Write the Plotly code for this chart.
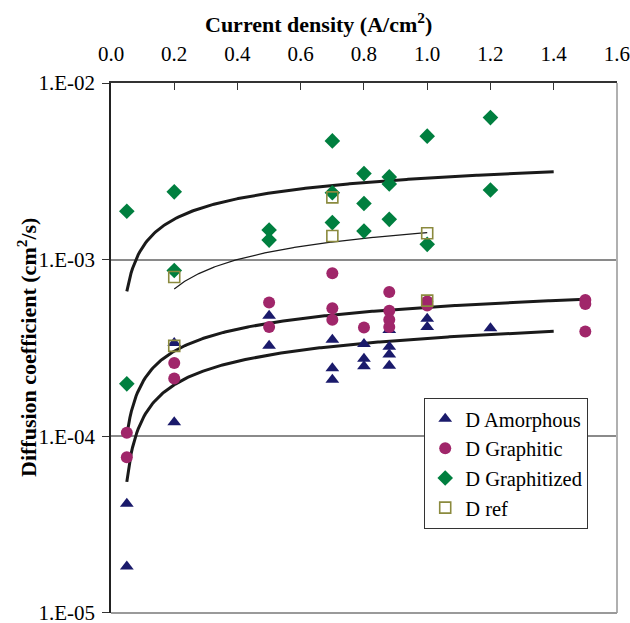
import numpy as np
import plotly.graph_objects as go

# ---------------- data ----------------
amorph_x = [0.05, 0.05, 0.2, 0.2, 0.5, 0.5, 0.7, 0.7, 0.7, 0.8, 0.8, 0.8,
            0.88, 0.88, 0.88, 0.88, 1.0, 1.0, 1.2]
amorph_y = [4.15e-5, 1.83e-5, 3.37e-4, 1.2e-4, 4.81e-4, 3.25e-4, 3.52e-4, 2.43e-4,
            2.09e-4, 3.33e-4, 2.75e-4, 2.49e-4, 4.0e-4, 3.21e-4, 2.9e-4, 2.51e-4,
            4.62e-4, 4.15e-4, 4.09e-4]

graphitic_x = [0.05, 0.05, 0.2, 0.2, 0.5, 0.5, 0.7, 0.7, 0.7, 0.8,
               0.88, 0.88, 0.88, 0.88, 1.0, 1.0, 1.5, 1.5, 1.5]
graphitic_y = [1.045e-4, 7.6e-5, 2.6e-4, 2.12e-4, 5.71e-4, 4.15e-4, 8.37e-4, 5.31e-4,
               4.56e-4, 4.13e-4, 6.55e-4, 5.13e-4, 4.56e-4, 4.15e-4, 5.8e-4, 5.5e-4,
               5.9e-4, 5.6e-4, 3.92e-4]

graphitized_x = [0.05, 0.05, 0.2, 0.2, 0.5, 0.5, 0.7, 0.7, 0.7, 0.8, 0.8, 0.8,
                 0.88, 0.88, 0.88, 1.0, 1.0, 1.2, 1.2]
graphitized_y = [1.88e-3, 1.98e-4, 2.42e-3, 8.67e-4, 1.47e-3, 1.29e-3, 4.7e-3, 2.39e-3,
                 1.62e-3, 3.07e-3, 2.08e-3, 1.45e-3, 2.94e-3, 2.68e-3, 1.69e-3,
                 5.0e-3, 1.22e-3, 6.37e-3, 2.48e-3]

ref_x = [0.2, 0.2, 0.7, 0.7, 1.0, 1.0]
ref_y = [7.98e-4, 3.25e-4, 2.25e-3, 1.36e-3, 1.41e-3, 5.86e-4]

series_names = ["D Amorphous", "D Graphitic", "D Graphitized", "D ref"]
# logarithmic trendline forward forecast (in x units) per series
trend_forward = [0.2, 0.0, 0.2, 0.0]

x_tickvals = [0.0, 0.2, 0.4, 0.6, 0.8, 1.0, 1.2, 1.4, 1.6]
x_ticktext = ["0.0", "0.2", "0.4", "0.6", "0.8", "1.0", "1.2", "1.4", "1.6"]
y_tickvals = [1e-5, 1e-4, 1e-3, 1e-2]
y_ticktext = ["1.E-05", "1.E-04", "1.E-03", "1.E-02"]

# ---------------- styling ----------------
FONT = "Liberation Serif"
styles = [
    dict(symbol="triangle-up", color="#1a1a6b", size=12, line=dict(width=0)),
    dict(symbol="circle", color="#a0266a", size=12, line=dict(width=0)),
    dict(symbol="diamond", color="#007f3f", size=12, line=dict(width=0)),
    dict(symbol="square-open", color="#8b8a3e", size=11, line=dict(width=1.6, color="#8b8a3e")),
]
trend_widths = [3, 3, 3, 1.2]

xs = [amorph_x, graphitic_x, graphitized_x, ref_x]
ys = [amorph_y, graphitic_y, graphitized_y, ref_y]

fig = go.Figure()

# logarithmic trendlines (least-squares fit y = a + b ln x, like the spreadsheet)
for i in [2, 3, 1, 0]:
    x = np.array(xs[i], float)
    y = np.array(ys[i], float)
    b, a = np.polyfit(np.log(x), y, 1)
    xx = np.linspace(x.min(), x.max() + trend_forward[i], 300)
    yy = a + b * np.log(xx)
    fig.add_trace(go.Scatter(x=xx, y=yy, mode="lines", showlegend=False,
                             hoverinfo="skip",
                             line=dict(color="#1a1a1a", width=trend_widths[i])))

for i in range(4):
    fig.add_trace(go.Scatter(x=xs[i], y=ys[i], mode="markers", name=series_names[i],
                             marker=styles[i]))

fig.update_layout(
    width=630, height=623,
    margin=dict(l=111, r=13, t=83, b=10, autoexpand=False),
    paper_bgcolor="white", plot_bgcolor="white",
    font=dict(family=FONT, size=21, color="black"),
    showlegend=True,
    legend=dict(x=0.619, y=0.406, xanchor="left", yanchor="top",
                bgcolor="white", bordercolor="#333333", borderwidth=1,
                font=dict(family=FONT, size=20.5, color="black"),
                itemwidth=30, tracegroupgap=0),
    xaxis=dict(side="top", range=[0, 1.6002], tickvals=x_tickvals, ticktext=x_ticktext,
               ticks="inside", ticklen=7, tickcolor="#333", tickwidth=1.3,
               showline=True, linecolor="#333", linewidth=1.5, mirror=False,
               showgrid=False, zeroline=False, ticklabelstandoff=12,
               ticklabeloverflow="allow", automargin=False,
               tickfont=dict(family=FONT, size=21, color="black")),
    yaxis=dict(type="log", range=[-5.0008, -2], tickvals=y_tickvals, ticktext=y_ticktext,
               ticks="outside", ticklen=7, tickcolor="#333", tickwidth=1.3,
               showline=True, linecolor="#222", linewidth=1.5,
               showgrid=True, gridcolor="#8a8a8a", gridwidth=1.5, zeroline=False,
               ticklabelstandoff=3, ticklabeloverflow="allow", automargin=False,
               tickfont=dict(family=FONT, size=21, color="black")),
    annotations=[
        dict(text="<b>Current density (A/cm<sup>2</sup>)</b>", xref="paper", yref="paper",
             x=0.411, y=1.114, xanchor="center", yanchor="middle", showarrow=False,
             font=dict(family=FONT, size=22, color="black")),
        dict(text="<b>Diffusion coefficient (cm<sup>2</sup>/s)</b>", xref="paper", yref="paper",
             x=-0.166, y=0.50, xanchor="center", yanchor="middle", showarrow=False,
             textangle=-90, font=dict(family=FONT, size=22, color="black")),
    ],
    shapes=[
        dict(type="line", xref="paper", yref="paper", x0=1, x1=1, y0=0, y1=1,
             line=dict(color="#b0b0b0", width=2)),
        dict(type="line", xref="paper", yref="paper", x0=0, x1=1, y0=0, y1=0,
             line=dict(color="#9a9a9a", width=2)),
    ],
)

fig.write_html("out.html")
